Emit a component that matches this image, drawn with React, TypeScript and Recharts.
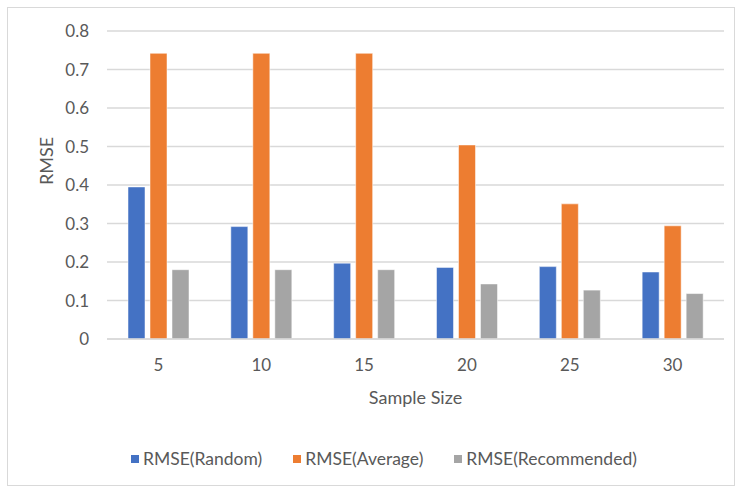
import {
  BarChart,
  Bar,
  XAxis,
  YAxis,
  CartesianGrid,
  Legend,
} from "recharts";

const sampleSizes = ["5", "10", "15", "20", "25", "30"];
const rmseRandom = [0.395, 0.292, 0.197, 0.186, 0.188, 0.174];
const rmseAverage = [0.742, 0.742, 0.742, 0.504, 0.351, 0.294];
const rmseRecommended = [0.18, 0.18, 0.18, 0.143, 0.127, 0.118];
const yTicks = [0, 0.1, 0.2, 0.3, 0.4, 0.5, 0.6, 0.7, 0.8];

const series = [
  { key: "random", name: "RMSE(Random)", color: "#4472C4" },
  { key: "average", name: "RMSE(Average)", color: "#ED7D31" },
  { key: "recommended", name: "RMSE(Recommended)", color: "#A5A5A5" },
];

const data = sampleSizes.map((size, i) => ({
  size,
  random: rmseRandom[i],
  average: rmseAverage[i],
  recommended: rmseRecommended[i],
}));

const FONT = "Lato, 'Open Sans', sans-serif";
const TEXT = "#595959";

const LegendRow = () => (
  <div
    style={{
      display: "flex",
      justifyContent: "flex-start",
      paddingLeft: 131,
      gap: 31,
      fontFamily: FONT,
      fontSize: 17.5,
      color: TEXT,
    }}
  >
    {series.map((s) => (
      <div key={s.key} style={{ display: "flex", alignItems: "center" }}>
        <span
          style={{
            width: 8,
            height: 8,
            background: s.color,
            marginRight: 4,
            display: "inline-block",
          }}
        />
        {s.name}
      </div>
    ))}
  </div>
);

export default function App() {
  return (
    <div
      style={{
        position: "absolute",
        left: 0,
        top: 0,
        width: 737,
        height: 489,
        background: "#fff",
      }}
    >
      <div
        style={{
          position: "absolute",
          left: 7,
          top: 7,
          width: 728,
          height: 479,
          border: "1px solid #d9d9d9",
          boxSizing: "border-box",
        }}
      />
      <BarChart
        width={737}
        height={489}
        data={data}
        margin={{ top: 31, right: 13, left: 0, bottom: 21 }}
        barCategoryGap="20%"
        barGap={5}
        style={{ fontFamily: FONT }}
      >
        <CartesianGrid
          vertical={false}
          stroke="#d9d9d9"
          strokeWidth={1.5}
        />
        <XAxis
          dataKey="size"
          height={109}
          axisLine={{ stroke: "#d9d9d9", strokeWidth: 1.5 }}
          tickLine={false}
          tickSize={0}
          tickMargin={20}
          tick={{ fontSize: 17, fill: TEXT }}
          label={{
            value: "Sample Size",
            position: "insideTop",
            offset: 52,
            fontSize: 18,
            fill: TEXT,
          }}
        />
        <YAxis
          width={107}
          domain={[0, 0.8]}
          ticks={yTicks}
          axisLine={false}
          tickLine={false}
          tickSize={0}
          tickMargin={18}
          tickFormatter={(v: number) => (v === 0 ? "0" : v.toFixed(1))}
          tick={{ fontSize: 17, fill: TEXT }}
          label={{
            value: "RMSE",
            angle: -90,
            position: "insideLeft",
            offset: 47,
            fontSize: 18,
            fill: TEXT,
          }}
        />
        <Legend verticalAlign="bottom" height={20} content={<LegendRow />} />
        {series.map((s) => (
          <Bar
            key={s.key}
            dataKey={s.key}
            name={s.name}
            fill={s.color}
            stroke="#fff"
            strokeWidth={0.5}
            barSize={17}
            isAnimationActive={false}
          />
        ))}
      </BarChart>
    </div>
  );
}
